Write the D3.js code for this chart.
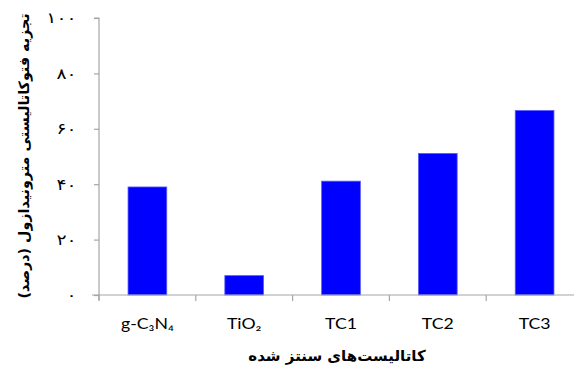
<!DOCTYPE html>
<html>
<head>
<meta charset="utf-8">
<script src="https://cdn.jsdelivr.net/npm/d3@7"></script>
<style>
  html, body { margin: 0; padding: 0; background: #fff; }
  svg { display: block; }
</style>
</head>
<body>
<svg id="chart" width="574" height="369"></svg>
<script>
// Catalyst samples and their photocatalytic degradation (%)
const categories = ["g-C₃N₄", "TiO₂", "TC1", "TC2", "TC3"];
const degradation = [39.0, 7.0, 41.1, 51.1, 66.6];
const yTicks = [0, 20, 40, 60, 80, 100];
const yTickLabels = ["۰", "۲۰", "۴۰", "۶۰", "۸۰", "۱۰۰"];
const yTitle = "تجزیه فتوکاتالیستی مترونیدازول (درصد)";
const xTitle = "کاتالیست‌های سنتز شده";

const svg = d3.select("#chart");
const margin = { left: 99, right: -9, top: 18, bottom: 74 };
const W = 574, H = 369;
const plotW = W - margin.left - margin.right;
const plotH = H - margin.top - margin.bottom;
const axisColor = "#a6a6a6";

const x = d3.scaleBand().domain(categories).range([0, plotW]).paddingInner(0.6).paddingOuter(0.3);
const xOuter = d3.scaleBand().domain(categories).range([0, plotW]);
const y = d3.scaleLinear().domain([0, 100]).range([plotH, 0]);

const g = svg.append("g").attr("transform", `translate(${margin.left},${margin.top})`);

// Bars
g.selectAll("rect.bar")
  .data(categories.map((c, i) => ({ c, v: degradation[i] })))
  .join("rect")
  .attr("class", "bar")
  .attr("x", d => x(d.c))
  .attr("y", d => y(d.v))
  .attr("width", x.bandwidth())
  .attr("height", d => y(0) - y(d.v))
  .attr("fill", "#0000ff")
  .attr("stroke", "#5a5aff")
  .attr("stroke-width", 0.8);

// Y axis (labels widened horizontally; x offset compensated for the scale)
const labelStretch = 1.25;
const yAxis = d3.axisLeft(y)
  .tickValues(yTicks)
  .tickFormat((d, i) => yTickLabels[i])
  .tickSize(5)
  .tickPadding(13);
const yg = g.append("g").call(yAxis);
yg.select(".domain").attr("stroke", axisColor).attr("stroke-width", 1.2).attr("d", `M-5,${y(100)}H0V${y(0) + 5}`);
yg.selectAll(".tick line").attr("stroke", axisColor).attr("stroke-width", 1.2);
yg.selectAll(".tick text")
  .attr("font-family", "DejaVu Sans, sans-serif")
  .attr("font-size", 15)
  .attr("fill", "#000")
  .attr("text-anchor", "end")
  .attr("transform", `scale(${labelStretch},1)`);

// X axis: category boundary ticks
const xg = g.append("g").attr("transform", `translate(0,${plotH})`);
xg.append("path")
  .attr("d", `M-7,0H${plotW}`)
  .attr("stroke", axisColor)
  .attr("stroke-width", 1.2)
  .attr("fill", "none");
xg.selectAll("line.btick")
  .data(categories)
  .join("line")
  .attr("class", "btick")
  .attr("x1", d => xOuter(d)).attr("x2", d => xOuter(d))
  .attr("y1", 0).attr("y2", 6)
  .attr("stroke", axisColor)
  .attr("stroke-width", 1.2);
xg.selectAll("text.cat")
  .data(categories)
  .join("text")
  .attr("class", "cat")
  .attr("transform", d => `translate(${x(d) + x.bandwidth() / 2},34) scale(1.22,1)`)
  .attr("text-anchor", "middle")
  .attr("font-family", "Lato, 'Open Sans', sans-serif")
  .attr("font-size", 14.5)
  .attr("fill", "#000")
  .text(d => d);

// Axis titles
svg.append("text")
  .attr("transform", `translate(29,156) rotate(-90)`)
  .attr("text-anchor", "middle")
  .attr("font-family", "DejaVu Sans, sans-serif")
  .attr("font-weight", "bold")
  .attr("font-size", 14.3)
  .attr("direction", "rtl")
  .text(yTitle);

svg.append("text")
  .attr("x", 337)
  .attr("y", 361)
  .attr("text-anchor", "middle")
  .attr("font-family", "DejaVu Sans, sans-serif")
  .attr("font-weight", "bold")
  .attr("font-size", 15)
  .attr("direction", "rtl")
  .text(xTitle);
</script>
</body>
</html>
